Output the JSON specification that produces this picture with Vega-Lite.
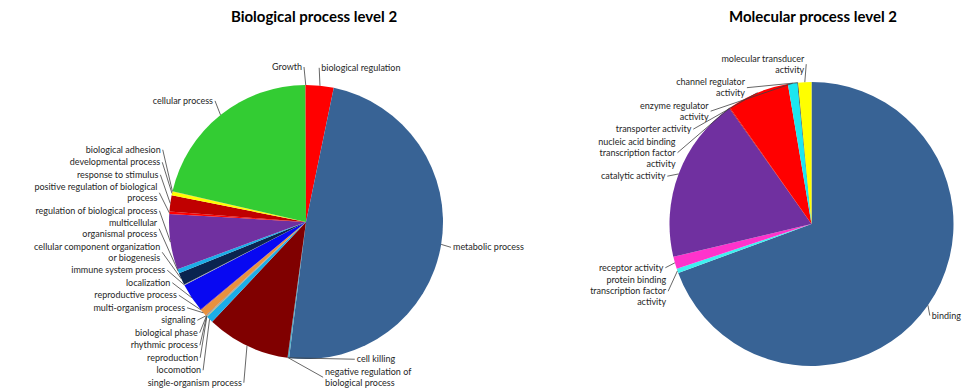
{
  "$schema": "https://vega.github.io/schema/vega-lite/v6.json",
  "padding": 0,
  "spacing": 0,
  "bounds": "flush",
  "background": "white",
  "resolve": {"scale": {"color": "independent"}},
  "config": {"view": {"stroke": null}, "font": "Lato"},
  "datasets": {
    "bp": [
      {"i": 1, "name": "biological regulation", "label": "biological regulation", "value": 3.25},
      {"i": 2, "name": "metabolic process", "label": "metabolic process", "value": 48.72},
      {"i": 3, "name": "negative regulation of biological process", "label": "negative regulation of\nbiological process", "value": 0.14},
      {"i": 4, "name": "cell killing", "label": "cell killing", "value": 0.04},
      {"i": 5, "name": "single-organism process", "label": "single-organism process", "value": 9.86},
      {"i": 6, "name": "locomotion", "label": "locomotion", "value": 0.83},
      {"i": 7, "name": "reproduction", "label": "reproduction", "value": 0.06},
      {"i": 8, "name": "rhythmic process", "label": "rhythmic process", "value": 0.03},
      {"i": 9, "name": "biological phase", "label": "biological phase", "value": 0.03},
      {"i": 10, "name": "signaling", "label": "signaling", "value": 0.08},
      {"i": 11, "name": "multi-organism process", "label": "multi-organism process", "value": 0.83},
      {"i": 12, "name": "reproductive process", "label": "reproductive process", "value": 0.08},
      {"i": 13, "name": "localization", "label": "localization", "value": 3.42},
      {"i": 14, "name": "immune system process", "label": "immune system process", "value": 0.08},
      {"i": 15, "name": "cellular component organization or biogenesis", "label": "cellular component organization\nor biogenesis", "value": 1.44},
      {"i": 16, "name": "multicellular organismal process", "label": "multicellular\norganismal process", "value": 0.5},
      {"i": 17, "name": "regulation of biological process", "label": "regulation of biological process", "value": 6.53},
      {"i": 18, "name": "positive regulation of biological process", "label": "positive regulation of biological\nprocess", "value": 0.28},
      {"i": 19, "name": "response to stimulus", "label": "response to stimulus", "value": 1.92},
      {"i": 20, "name": "developmental process", "label": "developmental process", "value": 0.42},
      {"i": 21, "name": "biological adhesion", "label": "biological adhesion", "value": 0.06},
      {"i": 22, "name": "cellular process", "label": "cellular process", "value": 21.33},
      {"i": 23, "name": "Growth", "label": "Growth", "value": 0.06}
    ],
    "mf": [
      {"i": 1, "name": "binding", "label": "binding", "value": 69.39},
      {"i": 2, "name": "protein binding transcription factor activity", "label": "protein binding\ntranscription factor\nactivity", "value": 0.5},
      {"i": 3, "name": "receptor activity", "label": "receptor activity", "value": 1.39},
      {"i": 4, "name": "catalytic activity", "label": "catalytic activity", "value": 18.89},
      {"i": 5, "name": "nucleic acid binding transcription factor activity", "label": "nucleic acid binding\ntranscription factor\nactivity", "value": 0.08},
      {"i": 6, "name": "transporter activity", "label": "transporter activity", "value": 7.08},
      {"i": 7, "name": "enzyme regulator activity", "label": "enzyme regulator\nactivity", "value": 1.08},
      {"i": 8, "name": "channel regulator activity", "label": "channel regulator\nactivity", "value": 0.08},
      {"i": 9, "name": "molecular transducer activity", "label": "molecular transducer\nactivity", "value": 1.5}
    ]
  },
  "hconcat": [
    {
      "width": 560,
      "height": 391,
      "title": {"text": "Biological process level 2", "anchor": "middle", "frame": "group", "offset": -25, "dx": 34, "fontSize": 15, "font": "Lato", "fontWeight": "bold", "color": "#000000"},
      "data": {"name": "bp"},
      "transform": [
        {"joinaggregate": [{"op": "sum", "field": "value", "as": "total"}]},
        {"window": [{"op": "sum", "field": "value", "as": "cum"}], "sort": [{"field": "i", "order": "ascending"}], "frame": [null, 0]},
        {"calculate": "2*PI*datum.cum/datum.total", "as": "a1"},
        {"calculate": "datum.a1-2*PI*datum.value/datum.total", "as": "a0"},
        {"calculate": "(datum.a0+datum.a1)/2", "as": "m"},
        {"calculate": "137*sin(datum.m)", "as": "ax"},
        {"calculate": "-137*cos(datum.m)", "as": "ay"},
        {"calculate": "(sin(datum.m)>=0 || (sin(datum.m)>-0.2 && cos(datum.m)<0)) ? 'R' : 'L'", "as": "side"},
        {"calculate": "max(-155*cos(datum.m), -175)", "as": "ny"},
        {"calculate": "length(split(datum.label,'\\n'))", "as": "nl"},
        {"calculate": "datum.nl*11+1.5", "as": "h"},
        {"window": [{"op": "sum", "field": "h", "as": "ch"}], "groupby": ["side"], "sort": [{"field": "ny", "order": "ascending"}, {"field": "i", "order": "ascending"}], "frame": [null, 0]},
        {"calculate": "datum.ch-datum.h/2", "as": "c"},
        {"calculate": "datum.ny-datum.c", "as": "t"},
        {"window": [{"op": "max", "field": "t", "as": "tm"}], "groupby": ["side"], "sort": [{"field": "ny", "order": "ascending"}, {"field": "i", "order": "ascending"}], "frame": [null, 0]},
        {"calculate": "min(datum.c+datum.tm, 167-datum.h/2)", "as": "yf"},
        {"calculate": "datum.yf-datum.c", "as": "u"},
        {"window": [{"op": "min", "field": "u", "as": "um"}], "groupby": ["side"], "sort": [{"field": "ny", "order": "ascending"}, {"field": "i", "order": "ascending"}], "frame": [0, null]},
        {"calculate": "datum.c+datum.um", "as": "ly"},
        {"calculate": "datum.ly-(datum.nl-1)*11/2", "as": "ty"},
        {"calculate": "max(149*abs(sin(datum.m)), sqrt(max(145*145-datum.ly*datum.ly,0))+4)", "as": "dxl"},
        {"calculate": "datum.side=='R' ? min(datum.dxl, 254-length(datum.label)*4.6) : -datum.dxl", "as": "lx"},
        {"calculate": "datum.side=='R' ? datum.lx-2 : datum.lx+2", "as": "ex"}
      ],
      "layer": [
        {
          "mark": {"type": "arc", "outerRadius": 137},
          "encoding": {
            "x": {"datum": 0, "type": "quantitative", "scale": {"domain": [-306, 254], "nice": false, "zero": false}, "axis": null},
            "y": {"datum": 0, "type": "quantitative", "scale": {"domain": [-222, 169], "nice": false, "zero": false, "reverse": true}, "axis": null},
            "theta": {"field": "a0", "type": "quantitative", "stack": null, "scale": {"domain": [0, 6.283185307179586], "range": [0, 6.283185307179586]}},
            "theta2": {"field": "a1"},
            "color": {"field": "name", "type": "nominal", "legend": null,
              "scale": {
                "domain": ["biological regulation", "metabolic process", "negative regulation of biological process", "cell killing", "single-organism process", "locomotion", "reproduction", "rhythmic process", "biological phase", "signaling", "multi-organism process", "reproductive process", "localization", "immune system process", "cellular component organization or biogenesis", "multicellular organismal process", "regulation of biological process", "positive regulation of biological process", "response to stimulus", "developmental process", "biological adhesion", "cellular process", "Growth"],
                "range": ["#FF0000", "#386395", "#4BACC6", "#1F497D", "#800000", "#1CADE8", "#9BBB59", "#8064A2", "#F79646", "#4F81BD", "#E8913F", "#C0504D", "#0808F2", "#A6A6A6", "#0A2450", "#1CADE8", "#7030A0", "#FF0000", "#C00000", "#FFFF00", "#FFC000", "#33CC33", "#FF0000"]
              }
            }
          }
        },
        {
          "mark": {"type": "rule", "color": "#404040", "strokeWidth": 0.8},
          "encoding": {
            "x": {"field": "ax", "type": "quantitative", "scale": {"domain": [-306, 254], "nice": false, "zero": false}, "axis": null},
            "y": {"field": "ay", "type": "quantitative", "scale": {"domain": [-222, 169], "nice": false, "zero": false, "reverse": true}, "axis": null},
            "x2": {"field": "ex"},
            "y2": {"field": "ly"}
          }
        },
        {
          "transform": [{"filter": "datum.side == 'L'"}],
          "mark": {"type": "text", "align": "right", "baseline": "middle", "fontSize": 9, "lineHeight": 11, "lineBreak": "\n", "color": "#262626", "font": "Lato"},
          "encoding": {
            "x": {"field": "lx", "type": "quantitative", "axis": null},
            "y": {"field": "ty", "type": "quantitative", "axis": null},
            "text": {"field": "label"}
          }
        },
        {
          "transform": [{"filter": "datum.side == 'R'"}],
          "mark": {"type": "text", "align": "left", "baseline": "middle", "fontSize": 9, "lineHeight": 11, "lineBreak": "\n", "color": "#262626", "font": "Lato"},
          "encoding": {
            "x": {"field": "lx", "type": "quantitative", "axis": null},
            "y": {"field": "ty", "type": "quantitative", "axis": null},
            "text": {"field": "label"}
          }
        }
      ]
    },
    {
      "width": 404,
      "height": 391,
      "title": {"text": "Molecular process level 2", "anchor": "middle", "frame": "group", "offset": -25, "dx": 51, "fontSize": 15, "font": "Lato", "fontWeight": "bold", "color": "#000000"},
      "data": {"name": "mf"},
      "transform": [
        {"joinaggregate": [{"op": "sum", "field": "value", "as": "total"}]},
        {"window": [{"op": "sum", "field": "value", "as": "cum"}], "sort": [{"field": "i", "order": "ascending"}], "frame": [null, 0]},
        {"calculate": "2*PI*datum.cum/datum.total", "as": "a1"},
        {"calculate": "datum.a1-2*PI*datum.value/datum.total", "as": "a0"},
        {"calculate": "(datum.a0+datum.a1)/2", "as": "m"},
        {"calculate": "142*sin(datum.m)", "as": "ax"},
        {"calculate": "-142*cos(datum.m)", "as": "ay"},
        {"calculate": "(sin(datum.m)>=0 || (sin(datum.m)>-0.2 && cos(datum.m)<0)) ? 'R' : 'L'", "as": "side"},
        {"calculate": "max(-160*cos(datum.m), -175)", "as": "ny"},
        {"calculate": "length(split(datum.label,'\\n'))", "as": "nl"},
        {"calculate": "datum.nl*11+1.5", "as": "h"},
        {"window": [{"op": "sum", "field": "h", "as": "ch"}], "groupby": ["side"], "sort": [{"field": "ny", "order": "ascending"}, {"field": "i", "order": "ascending"}], "frame": [null, 0]},
        {"calculate": "datum.ch-datum.h/2", "as": "c"},
        {"calculate": "datum.ny-datum.c", "as": "t"},
        {"window": [{"op": "max", "field": "t", "as": "tm"}], "groupby": ["side"], "sort": [{"field": "ny", "order": "ascending"}, {"field": "i", "order": "ascending"}], "frame": [null, 0]},
        {"calculate": "min(datum.c+datum.tm, 165-datum.h/2)", "as": "yf"},
        {"calculate": "datum.yf-datum.c", "as": "u"},
        {"window": [{"op": "min", "field": "u", "as": "um"}], "groupby": ["side"], "sort": [{"field": "ny", "order": "ascending"}, {"field": "i", "order": "ascending"}], "frame": [0, null]},
        {"calculate": "datum.c+datum.um", "as": "ly"},
        {"calculate": "datum.ly-(datum.nl-1)*11/2", "as": "ty"},
        {"calculate": "max(154*abs(sin(datum.m)), sqrt(max(150*150-datum.ly*datum.ly,0))+4)", "as": "dxl"},
        {"calculate": "datum.side=='R' ? min(datum.dxl, 152.5-length(datum.label)*4.6) : -datum.dxl", "as": "lx"},
        {"calculate": "datum.side=='R' ? datum.lx-2 : datum.lx+2", "as": "ex"}
      ],
      "layer": [
        {
          "mark": {"type": "arc", "outerRadius": 142},
          "encoding": {
            "x": {"datum": 0, "type": "quantitative", "scale": {"domain": [-251.5, 152.5], "nice": false, "zero": false}, "axis": null},
            "y": {"datum": 0, "type": "quantitative", "scale": {"domain": [-224, 167], "nice": false, "zero": false, "reverse": true}, "axis": null},
            "theta": {"field": "a0", "type": "quantitative", "stack": null, "scale": {"domain": [0, 6.283185307179586], "range": [0, 6.283185307179586]}},
            "theta2": {"field": "a1"},
            "color": {"field": "name", "type": "nominal", "legend": null,
              "scale": {
                "domain": ["binding", "protein binding transcription factor activity", "receptor activity", "catalytic activity", "nucleic acid binding transcription factor activity", "transporter activity", "enzyme regulator activity", "channel regulator activity", "molecular transducer activity"],
                "range": ["#386395", "#40F0F0", "#FF33CC", "#7030A0", "#C00000", "#FF0000", "#1CE6F0", "#262626", "#FFFF00"]
              }
            }
          }
        },
        {
          "mark": {"type": "rule", "color": "#404040", "strokeWidth": 0.8},
          "encoding": {
            "x": {"field": "ax", "type": "quantitative", "scale": {"domain": [-251.5, 152.5], "nice": false, "zero": false}, "axis": null},
            "y": {"field": "ay", "type": "quantitative", "scale": {"domain": [-224, 167], "nice": false, "zero": false, "reverse": true}, "axis": null},
            "x2": {"field": "ex"},
            "y2": {"field": "ly"}
          }
        },
        {
          "transform": [{"filter": "datum.side == 'L'"}],
          "mark": {"type": "text", "align": "right", "baseline": "middle", "fontSize": 9, "lineHeight": 11, "lineBreak": "\n", "color": "#262626", "font": "Lato"},
          "encoding": {
            "x": {"field": "lx", "type": "quantitative", "axis": null},
            "y": {"field": "ty", "type": "quantitative", "axis": null},
            "text": {"field": "label"}
          }
        },
        {
          "transform": [{"filter": "datum.side == 'R'"}],
          "mark": {"type": "text", "align": "left", "baseline": "middle", "fontSize": 9, "lineHeight": 11, "lineBreak": "\n", "color": "#262626", "font": "Lato"},
          "encoding": {
            "x": {"field": "lx", "type": "quantitative", "axis": null},
            "y": {"field": "ty", "type": "quantitative", "axis": null},
            "text": {"field": "label"}
          }
        }
      ]
    }
  ]
}
